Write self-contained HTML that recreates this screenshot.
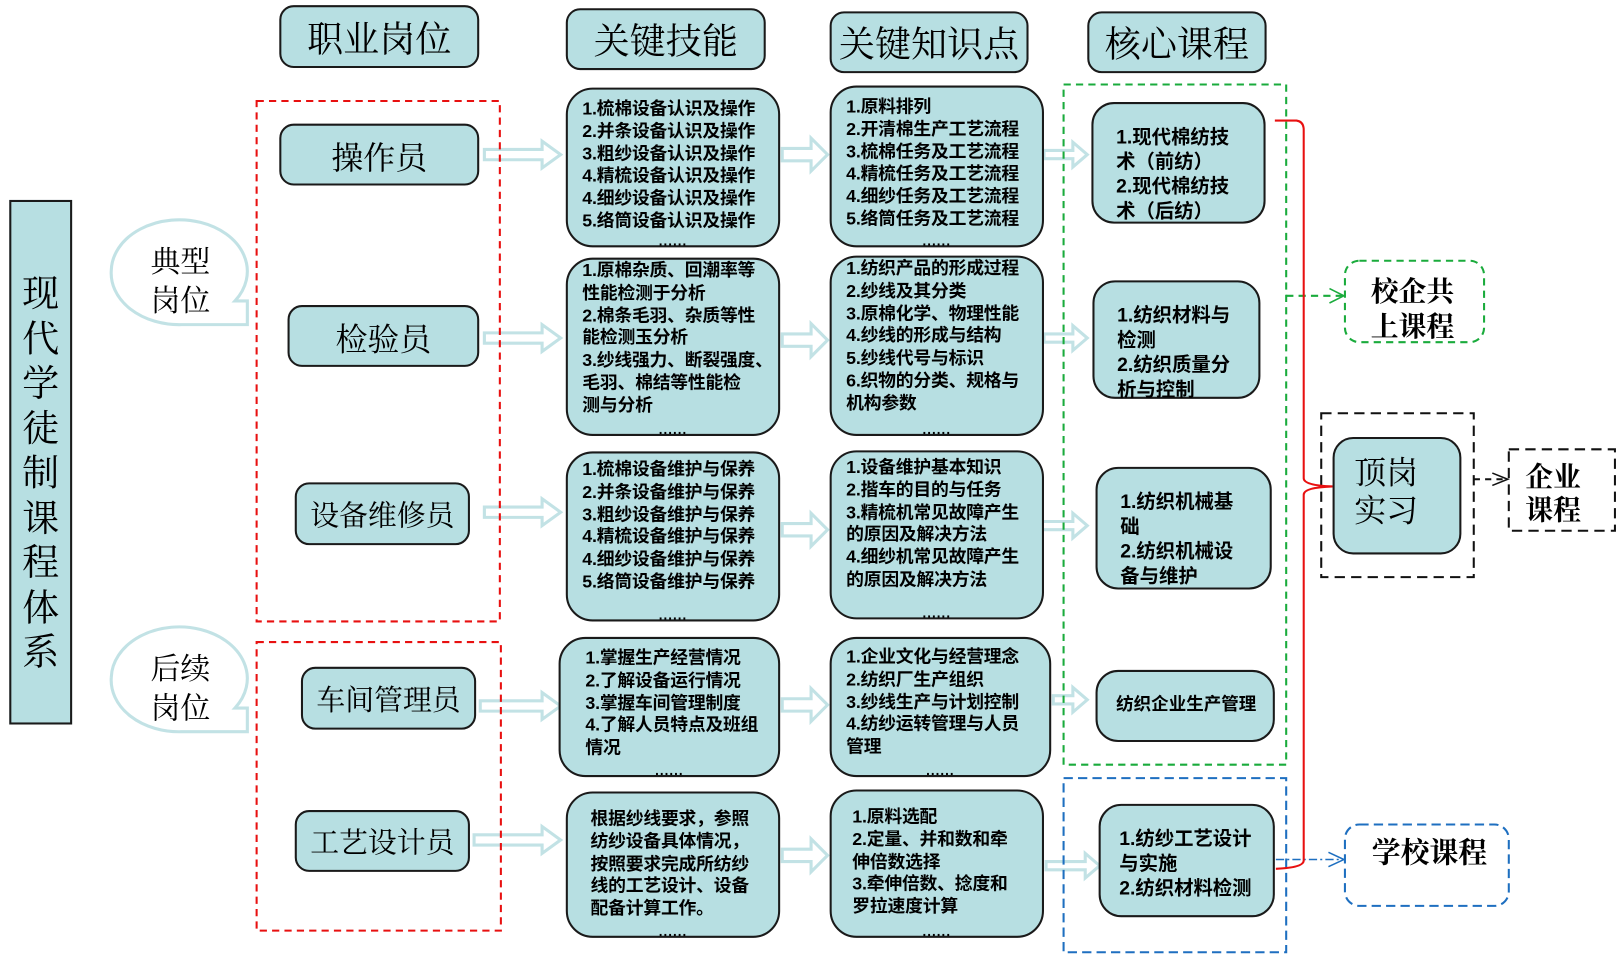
<!DOCTYPE html>
<html><head><meta charset="utf-8"><style>
html,body{margin:0;padding:0;background:#fff;width:1616px;height:955px;overflow:hidden}
#w{position:absolute;left:0;top:0;width:1568px;height:927px;transform:scale(1.0306);transform-origin:0 0;font-family:"Liberation Sans","Noto Sans CJK SC",sans-serif}
.b{position:absolute;box-sizing:border-box;background:#b7dfe2;border:2px solid #1a1a1a;border-radius:14px}
.h{display:flex;align-items:center;justify-content:center;font-family:"Liberation Serif","Noto Serif CJK SC",serif;font-size:35px;color:#000}
.r{display:flex;align-items:center;justify-content:center;font-family:"Liberation Serif","Noto Serif CJK SC",serif;font-size:31px}
.t{border-radius:26px;font-weight:bold;font-size:17.3px;line-height:21.8px;padding:6px 0 0 14px;color:#000;letter-spacing:-0.2px}
.t .d{position:absolute;bottom:-3px;left:0;right:0;text-align:center;font-size:13px;line-height:14px;letter-spacing:1px;font-weight:bold}
.c{border-radius:22px;font-weight:bold;font-size:18.8px;line-height:24px;padding:18px 0 0 22px}
svg{position:absolute;left:0;top:0}
.s{position:absolute;font-family:"Liberation Serif","Noto Serif CJK SC",serif}
</style></head><body><div id="w">
<svg width="1568" height="927">
<g fill="#fff" stroke="#c2e2e5" stroke-width="3">
<path d="M108 262 A66 50 0 1 1 228 292 L240 292 L240 315 L176 315 A66 50 0 0 1 108 262 Z"/>
<path d="M108 657 A66 50 0 1 1 228 687 L240 687 L240 710 L176 710 A66 50 0 0 1 108 657 Z"/>
</g>
<g fill="#fff" stroke="#c2e2e5" stroke-width="3">
<path d="M470 145 h56 v-8 l18 13 l-18 13 v-8 h-56 z"/>
<path d="M470 323 h56 v-8 l18 13 l-18 13 v-8 h-56 z"/>
<path d="M470 492 h56 v-8 l18 13 l-18 13 v-8 h-56 z"/>
<path d="M466 680 h60 v-8 l18 13 l-18 13 v-8 h-60 z"/>
<path d="M460 810 h66 v-8 l18 13 l-18 13 v-8 h-66 z"/>
<path d="M759 144 h28 v-10 l16 16 l-16 16 v-10 h-28 z"/>
<path d="M759 324 h28 v-10 l16 16 l-16 16 v-10 h-28 z"/>
<path d="M759 508 h28 v-10 l16 16 l-16 16 v-10 h-28 z"/>
<path d="M759 678 h28 v-10 l16 16 l-16 16 v-10 h-28 z"/>
<path d="M759 824 h28 v-10 l16 16 l-16 16 v-10 h-28 z"/>
<path d="M1013 146 h28 v-8 l14 12 l-14 12 v-8 h-28 z"/>
<path d="M1013 324 h28 v-8 l14 12 l-14 12 v-8 h-28 z"/>
<path d="M985 506 h56 v-8 l14 12 l-14 12 v-8 h-56 z"/>
<path d="M1022 675 h19 v-8 l14 12 l-14 12 v-8 h-19 z"/>
<path d="M1015 836 h38 v-8 l14 12 l-14 12 v-8 h-38 z"/>
</g>
<g fill="none">
<rect x="249" y="98" width="236" height="505" stroke="#e81010" stroke-width="2" stroke-dasharray="7,5"/>
<rect x="249" y="623" width="237" height="280" stroke="#e81010" stroke-width="2" stroke-dasharray="7,5"/>
<rect x="1032" y="82" width="216" height="660" stroke="#1aab3c" stroke-width="2" stroke-dasharray="7,5"/>
<rect x="1032" y="755" width="216" height="169" stroke="#1e6fc0" stroke-width="2" stroke-dasharray="9,5"/>
<rect x="1305" y="253" width="135" height="79" rx="14" stroke="#1aab3c" stroke-width="2" stroke-dasharray="7,5"/>
<rect x="1282" y="401" width="148" height="159" stroke="#111" stroke-width="2" stroke-dasharray="10,6"/>
<rect x="1464" y="436" width="103" height="79" stroke="#111" stroke-width="2" stroke-dasharray="10,6"/>
<rect x="1305" y="800" width="159" height="79" rx="14" stroke="#1e6fc0" stroke-width="2" stroke-dasharray="9,5"/>
<path d="M1248 287 H1303" stroke="#1aab3c" stroke-width="2" stroke-dasharray="7,5"/>
<path d="M1290 280 L1304 287 L1290 294" stroke="#1aab3c" stroke-width="1.5"/>
<path d="M1430 465 H1462" stroke="#111" stroke-width="2" stroke-dasharray="6,5"/>
<path d="M1448 459 L1463 465 L1448 471" stroke="#111" stroke-width="1.5"/>
<path d="M1238 834 H1303" stroke="#1e6fc0" stroke-width="1.5" stroke-dasharray="8,3,2,3"/>
<path d="M1289 827 L1304 834 L1289 841" stroke="#1e6fc0" stroke-width="1.5"/>
<path d="M1237 117 H1258 Q1265 118 1265 126 V464 Q1265 471 1293 472 M1293 472 Q1265 473 1265 480 V835 Q1265 842 1238 843" stroke="#e81010" stroke-width="2"/>
</g>
</svg>
<div class="b h" style="left:271px;top:5px;width:194px;height:61px">职业岗位</div>
<div class="b h" style="left:549px;top:8px;width:194px;height:60px">关键技能</div>
<div class="b h" style="left:805px;top:11px;width:193px;height:60px">关键知识点</div>
<div class="b h" style="left:1055px;top:11px;width:174px;height:60px">核心课程</div>
<div class="b" style="left:9px;top:194px;width:61px;height:509px;border-radius:0;font-family:'Liberation Serif','Noto Serif CJK SC',serif;font-size:36px;line-height:43.5px;text-align:center;padding-top:68px">现<br>代<br>学<br>徒<br>制<br>课<br>程<br>体<br>系</div>
<div class="s" style="left:146px;top:236px;font-size:29px;line-height:38px">典型<br>岗位</div>
<div class="s" style="left:146px;top:631px;font-size:29px;line-height:38px">后续<br>岗位</div>
<div class="b r" style="left:271px;top:120px;width:194px;height:60px">操作员</div>
<div class="b r" style="left:279px;top:296px;width:186px;height:60px">检验员</div>
<div class="b r" style="left:286px;top:468px;width:170px;height:61px;font-size:28px">设备维修员</div>
<div class="b r" style="left:292px;top:647px;width:170px;height:61px;font-size:28px">车间管理员</div>
<div class="b r" style="left:286px;top:786px;width:170px;height:60px;font-size:28px">工艺设计员</div>
<div class="b t" style="left:549px;top:85px;width:208px;height:155px;padding-top:8px">1.梳棉设备认识及操作<br>2.并条设备认识及操作<br>3.粗纱设备认识及操作<br>4.精梳设备认识及操作<br>4.细纱设备认识及操作<br>5.络筒设备认识及操作<div class="d">......</div></div>
<div class="b t" style="left:549px;top:250px;width:208px;height:173px;padding-top:0">1.原棉杂质、回潮率等<br>性能检测于分析<br>2.棉条毛羽、杂质等性<br>能检测玉分析<br>3.纱线强力、断裂强度、<br>毛羽、棉结等性能检<br>测与分析<div class="d">......</div></div>
<div class="b t" style="left:549px;top:438px;width:208px;height:165px;padding-top:5px">1.梳棉设备维护与保养<br>2.并条设备维护与保养<br>3.粗纱设备维护与保养<br>4.精梳设备维护与保养<br>4.细纱设备维护与保养<br>5.络筒设备维护与保养<div class="d">......</div></div>
<div class="b t" style="left:542px;top:618px;width:215px;height:136px;padding:8px 0 0 24px">1.掌握生产经营情况<br>2.了解设备运行情况<br>3.掌握车间管理制度<br>4.了解人员特点及班组<br>情况<div class="d">......</div></div>
<div class="b t" style="left:549px;top:768px;width:208px;height:142px;padding:14px 0 0 22px">根据纱线要求，参照<br>纺纱设备具体情况，<br>按照要求完成所纺纱<br>线的工艺设计、设备<br>配备计算工作。<div class="d">......</div></div>
<div class="b t" style="left:805px;top:83px;width:208px;height:157px;padding-top:8px">1.原料排列<br>2.开清棉生产工艺流程<br>3.梳棉任务及工艺流程<br>4.精梳任务及工艺流程<br>4.细纱任务及工艺流程<br>5.络筒任务及工艺流程<div class="d">......</div></div>
<div class="b t" style="left:805px;top:248px;width:208px;height:175px;padding-top:0">1.纺织产品的形成过程<br>2.纱线及其分类<br>3.原棉化学、物理性能<br>4.纱线的形成与结构<br>5.纱线代号与标识<br>6.织物的分类、规格与<br>机构参数<div class="d">......</div></div>
<div class="b t" style="left:805px;top:437px;width:208px;height:164px;padding-top:4px">1.设备维护基本知识<br>2.揩车的目的与任务<br>3.精梳机常见故障产生<br>的原因及解决方法<br>4.细纱机常见故障产生<br>的原因及解决方法<div class="d">......</div></div>
<div class="b t" style="left:805px;top:618px;width:215px;height:136px;padding-top:7px">1.企业文化与经营理念<br>2.纺织厂生产组织<br>3.纱线生产与计划控制<br>4.纺纱运转管理与人员<br>管理<div class="d">......</div></div>
<div class="b t" style="left:805px;top:766px;width:208px;height:144px;padding:14px 0 0 20px">1.原料选配<br>2.定量、并和数和牵<br>伸倍数选择<br>3.牵伸倍数、捻度和<br>罗拉速度计算<div class="d">......</div></div>
<div class="b c" style="left:1059px;top:99px;width:169px;height:118px;padding-top:20px">1.现代棉纺技<br>术（前纺）<br>2.现代棉纺技<br>术（后纺）</div>
<div class="b c" style="left:1060px;top:272px;width:163px;height:115px;padding-top:20px">1.纺织材料与<br>检测<br>2.纺织质量分<br>析与控制</div>
<div class="b c" style="left:1063px;top:453px;width:171px;height:119px;padding:20px 0 0 22px">1.纺织机械基<br>础<br>2.纺织机械设<br>备与维护</div>
<div class="b c" style="left:1063px;top:650px;width:174px;height:70px;font-size:17px;padding:20px 0 0 18px">纺织企业生产管理</div>
<div class="b c" style="left:1066px;top:780px;width:171px;height:110px;padding:20px 0 0 18px">1.纺纱工艺设计<br>与实施<br>2.纺织材料检测</div>
<div class="s" style="left:1330px;top:266px;font-size:27px;line-height:34px;font-weight:bold">校企共<br>上课程</div>
<div class="b" style="left:1293px;top:424px;width:125px;height:114px;border-radius:20px"></div>
<div class="s" style="left:1314px;top:440px;font-size:31px;line-height:37px">顶岗<br>实习</div>
<div class="s" style="left:1480px;top:447px;font-size:27px;line-height:32px;font-weight:bold">企业<br>课程</div>
<div class="s" style="left:1331px;top:812px;font-size:28px;line-height:34px;font-weight:bold">学校课程</div>
</div></body></html>
